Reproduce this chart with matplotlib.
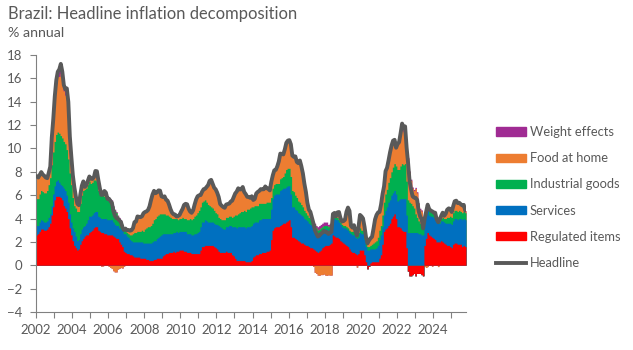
import numpy as np
import matplotlib
matplotlib.use("Agg")
import matplotlib.pyplot as plt
from matplotlib.patches import Patch
from matplotlib.lines import Line2D

plt.rcParams['font.family'] = ['Lato', 'DejaVu Sans']

start_year = 2002
series_names = ["Regulated items", "Services", "Industrial goods", "Food at home", "Weight effects"]

headline = [
    7.62, 7.51, 7.75, 7.98, 7.77, 7.66, 7.51, 7.46, 7.93, 8.45, 10.93, 12.53,
    14.47, 15.85, 16.57, 16.77, 17.24, 16.57, 15.43, 15.07, 15.14, 13.98, 11.02, 9.30,
    7.71, 6.69, 5.89, 5.26, 5.15, 6.06, 6.81, 7.18, 6.71, 6.86, 7.24, 7.60,
    7.41, 7.39, 7.54, 8.07, 8.05, 7.27, 6.57, 6.02, 6.04, 6.36, 6.22, 5.69,
    5.70, 5.51, 5.32, 4.63, 4.23, 4.03, 3.97, 3.84, 3.70, 3.26, 3.02, 3.14,
    2.99, 3.02, 2.96, 3.00, 3.18, 3.69, 3.74, 4.18, 4.15, 4.12, 4.19, 4.46,
    4.56, 4.61, 4.73, 5.04, 5.58, 6.06, 6.37, 6.17, 6.25, 6.41, 6.39, 5.90,
    5.84, 5.90, 5.61, 5.53, 5.20, 4.80, 4.50, 4.36, 4.34, 4.17, 4.22, 4.31,
    4.59, 4.83, 5.17, 5.26, 5.22, 4.84, 4.60, 4.49, 4.70, 5.20, 5.63, 5.91,
    5.99, 6.01, 6.30, 6.51, 6.55, 6.71, 6.87, 7.23, 7.31, 6.97, 6.64, 6.50,
    6.22, 5.85, 5.24, 5.10, 4.99, 4.92, 5.20, 5.24, 5.28, 5.45, 5.53, 5.84,
    6.15, 6.31, 6.59, 6.49, 6.50, 6.70, 6.27, 6.09, 5.86, 5.84, 5.77, 5.91,
    5.59, 5.68, 6.15, 6.28, 6.37, 6.52, 6.50, 6.51, 6.75, 6.59, 6.56, 6.41,
    7.14, 7.70, 8.13, 8.17, 8.47, 8.89, 9.56, 9.53, 9.49, 9.93, 10.48, 10.67,
    10.71, 10.36, 9.39, 9.28, 9.32, 8.84, 8.74, 8.97, 8.48, 7.87, 6.99, 6.29,
    5.35, 4.76, 4.57, 4.08, 3.60, 3.00, 2.71, 2.46, 2.54, 2.70, 2.80, 2.95,
    2.86, 2.84, 2.68, 2.76, 2.86, 4.39, 4.48, 4.19, 4.53, 4.56, 4.05, 3.75,
    3.78, 3.89, 4.58, 4.94, 4.66, 3.37, 3.22, 3.43, 2.89, 2.54, 3.27, 4.31,
    4.19, 4.01, 3.30, 2.40, 1.88, 2.13, 2.31, 2.44, 3.14, 3.92, 4.31, 4.52,
    4.56, 5.20, 6.10, 6.76, 8.06, 8.35, 8.99, 9.68, 10.25, 10.67, 10.74, 10.06,
    10.38, 10.54, 11.30, 12.13, 11.73, 11.89, 10.07, 8.73, 7.17, 6.47, 5.90, 5.79,
    5.77, 5.60, 4.65, 4.18, 3.94, 3.16, 3.99, 4.61, 5.19, 4.82, 4.68, 4.62,
    4.51, 4.50, 3.93, 3.69, 3.93, 4.23, 4.50, 4.24, 4.42, 4.76, 4.87, 4.83,
    4.56, 5.06, 5.48, 5.53, 5.32, 5.35, 5.23, 5.13, 5.17, 4.68,
]

regulated = [
    2.6, 2.7, 2.9, 3.1, 3.1, 3.0, 3.0, 3.1, 3.3, 3.6, 4.3, 5.0,
    5.6, 5.9, 5.9, 5.9, 5.8, 5.6, 5.1, 4.9, 4.6, 4.0, 3.2, 2.6,
    2.1, 1.7, 1.5, 1.3, 1.4, 1.8, 2.1, 2.3, 2.5, 2.6, 2.6, 2.8,
    2.9, 3.0, 3.2, 3.3, 3.3, 3.0, 2.9, 2.8, 2.8, 2.7, 2.7, 2.6,
    2.6, 2.6, 2.6, 2.5, 2.4, 2.3, 2.3, 2.0, 1.8, 1.6, 1.2, 1.1,
    1.0, 1.0, 0.9, 0.9, 0.8, 0.7, 0.7, 0.7, 0.7, 0.6, 0.6, 0.6,
    0.6, 0.5, 0.5, 0.4, 0.4, 0.4, 0.5, 0.5, 0.6, 0.6, 0.6, 0.6,
    0.8, 0.9, 1.0, 1.0, 1.1, 1.1, 1.1, 1.2, 1.1, 1.2, 1.2, 1.3,
    1.3, 1.3, 1.2, 1.2, 1.1, 1.1, 1.1, 1.0, 1.0, 1.0, 1.0, 1.0,
    1.0, 1.3, 1.6, 1.6, 1.7, 1.7, 1.7, 1.7, 1.7, 1.7, 1.6, 1.5,
    1.4, 1.2, 1.1, 1.1, 1.1, 1.1, 1.2, 1.1, 1.1, 1.1, 0.9, 0.8,
    0.6, 0.4, 0.4, 0.4, 0.4, 0.4, 0.4, 0.3, 0.3, 0.3, 0.3, 0.4,
    0.7, 0.8, 0.9, 0.9, 1.0, 1.0, 1.1, 1.1, 1.1, 1.2, 1.2, 1.3,
    2.2, 3.0, 3.2, 3.3, 3.3, 3.3, 3.4, 3.5, 3.6, 3.6, 3.7, 3.8,
    3.9, 3.3, 2.4, 2.4, 2.3, 2.2, 2.1, 2.0, 1.9, 1.9, 1.8, 1.7,
    1.7, 1.6, 1.5, 1.5, 1.4, 1.3, 1.2, 1.1, 1.2, 1.3, 1.5, 1.6,
    1.7, 1.7, 1.7, 1.8, 1.9, 2.6, 2.5, 2.4, 2.4, 2.3, 2.1, 2.0,
    1.9, 1.8, 1.7, 1.6, 1.4, 1.2, 1.1, 1.1, 1.0, 0.9, 1.0, 1.3,
    1.3, 1.3, 0.9, 0.3, -0.3, -0.1, 0.2, 0.3, 0.3, 0.3, 0.3, 0.3,
    0.6, 0.9, 1.8, 2.9, 3.1, 3.2, 3.4, 3.6, 4.0, 4.2, 4.4, 4.0,
    3.3, 3.3, 3.2, 3.0, 2.9, 2.9, 1.5, -0.5, -0.9, -0.9, -0.8, -0.7,
    -0.9, -0.7, -0.7, -0.7, -0.8, -0.9, 1.7, 2.3, 2.8, 2.6, 2.5, 2.4,
    2.3, 2.2, 2.0, 2.0, 2.0, 2.1, 2.0, 1.9, 1.8, 1.7, 1.7, 1.6,
    1.5, 1.8, 1.9, 1.9, 1.8, 1.8, 1.8, 1.6, 1.7, 1.6,
]

services = [
    0.8, 0.7, 0.8, 0.8, 0.7, 0.7, 0.7, 0.7, 0.8, 0.8, 0.8, 1.1,
    1.2, 1.3, 1.4, 1.2, 1.1, 1.2, 1.5, 1.5, 1.4, 1.4, 1.2, 1.1,
    1.1, 1.2, 1.0, 0.8, 0.8, 0.9, 1.0, 1.0, 0.9, 1.0, 1.3, 1.4,
    1.3, 1.3, 1.3, 1.3, 1.3, 1.2, 1.2, 1.2, 1.2, 1.3, 1.3, 1.3,
    1.3, 1.3, 1.3, 1.2, 1.1, 1.1, 1.1, 1.2, 1.3, 1.4, 1.5, 1.6,
    1.5, 1.4, 1.3, 1.2, 1.2, 1.3, 1.3, 1.3, 1.3, 1.4, 1.4, 1.3,
    1.3, 1.4, 1.4, 1.5, 1.5, 1.6, 1.6, 1.6, 1.7, 1.8, 1.9, 2.0,
    1.9, 1.8, 1.7, 1.7, 1.6, 1.6, 1.6, 1.6, 1.7, 1.7, 1.6, 1.6,
    1.6, 1.6, 1.7, 1.7, 1.6, 1.6, 1.6, 1.6, 1.6, 1.7, 1.7, 1.8,
    1.9, 2.0, 2.1, 2.1, 2.2, 2.1, 2.0, 2.0, 2.0, 2.0, 2.0, 2.0,
    2.1, 2.2, 2.2, 2.1, 2.0, 2.0, 2.1, 2.2, 2.3, 2.3, 2.4, 2.5,
    2.7, 2.8, 2.9, 2.9, 2.9, 2.9, 2.9, 2.9, 3.0, 3.0, 3.0, 3.0,
    2.9, 2.9, 2.8, 2.8, 2.9, 2.9, 2.9, 2.9, 2.9, 2.8, 2.8, 2.7,
    2.6, 2.7, 2.8, 2.8, 2.8, 2.8, 3.0, 3.0, 3.0, 3.0, 3.0, 3.0,
    2.9, 2.8, 2.6, 2.6, 2.5, 2.5, 2.4, 2.4, 2.4, 2.3, 2.2, 2.2,
    2.1, 2.0, 2.0, 1.9, 1.8, 1.7, 1.6, 1.5, 1.5, 1.5, 1.4, 1.4,
    1.4, 1.4, 1.3, 1.3, 1.3, 1.4, 1.5, 1.5, 1.5, 1.4, 1.4, 1.3,
    1.3, 1.4, 1.4, 1.4, 1.4, 1.5, 1.5, 1.5, 1.4, 1.4, 1.4, 1.5,
    1.4, 1.4, 1.3, 1.3, 1.3, 1.3, 1.2, 1.1, 1.1, 1.1, 1.2, 1.4,
    1.6, 1.7, 1.5, 1.4, 1.6, 1.8, 2.0, 2.0, 2.0, 2.0, 2.0, 2.1,
    2.2, 2.3, 2.5, 2.7, 2.8, 2.8, 2.8, 2.8, 2.8, 2.8, 2.8, 2.8,
    2.8, 2.8, 2.7, 2.7, 2.6, 2.6, 1.9, 2.0, 1.9, 1.7, 1.7, 1.8,
    1.8, 1.8, 1.7, 1.6, 1.6, 1.7, 1.8, 1.8, 1.8, 1.9, 1.9, 2.0,
    2.0, 2.0, 2.1, 2.1, 2.1, 2.2, 2.2, 2.3, 2.3, 2.3,
]

industrial = [
    2.3, 2.3, 2.4, 2.5, 2.5, 2.5, 2.5, 2.6, 2.8, 3.1, 3.5, 3.6,
    3.8, 4.0, 4.1, 4.2, 4.2, 4.1, 4.0, 4.0, 3.9, 3.7, 3.5, 3.2,
    2.6, 2.2, 2.4, 2.5, 2.4, 2.6, 2.9, 3.1, 3.1, 3.0, 3.0, 3.0,
    2.8, 2.8, 2.8, 2.7, 2.6, 2.2, 2.0, 2.1, 2.1, 1.9, 1.8, 1.7,
    1.8, 1.7, 1.6, 1.3, 1.2, 1.1, 0.8, 0.8, 0.7, 0.5, 0.4, 0.3,
    0.3, 0.3, 0.4, 0.5, 0.7, 0.8, 0.8, 0.9, 0.9, 0.9, 1.0, 1.0,
    1.2, 1.3, 1.4, 1.4, 1.5, 1.6, 1.8, 1.9, 1.9, 1.9, 1.9, 1.8,
    1.7, 1.7, 1.6, 1.6, 1.5, 1.4, 1.3, 1.2, 1.2, 1.1, 1.1, 1.1,
    1.1, 1.2, 1.1, 1.1, 1.2, 1.2, 1.3, 1.3, 1.4, 1.5, 1.6, 1.7,
    1.8, 1.7, 1.7, 1.8, 1.7, 1.6, 1.5, 1.4, 1.3, 1.2, 1.1, 1.0,
    0.9, 0.7, 0.7, 0.7, 0.8, 0.8, 0.8, 0.8, 0.8, 0.8, 0.8, 0.9,
    1.0, 1.1, 1.1, 1.2, 1.3, 1.3, 1.4, 1.4, 1.5, 1.5, 1.6, 1.6,
    1.4, 1.4, 1.4, 1.4, 1.4, 1.4, 1.3, 1.3, 1.3, 1.4, 1.4, 1.4,
    1.0, 0.9, 0.9, 0.9, 0.9, 0.9, 1.0, 1.0, 1.0, 1.3, 1.5, 1.5,
    1.5, 1.5, 1.4, 1.3, 1.2, 1.1, 1.0, 1.0, 0.9, 0.8, 0.7, 0.6,
    0.5, 0.5, 0.5, 0.5, 0.5, 0.5, 0.4, 0.4, 0.4, 0.4, 0.4, 0.4,
    0.3, 0.3, 0.3, 0.3, 0.3, 0.2, 0.2, 0.2, 0.2, 0.2, 0.2, 0.2,
    0.2, 0.2, 0.2, 0.2, 0.2, 0.2, 0.3, 0.3, 0.4, 0.4, 0.4, 0.4,
    0.3, 0.3, 0.3, 0.3, 0.3, 0.3, 0.3, 0.4, 0.5, 0.6, 0.6, 0.7,
    0.8, 0.8, 1.0, 1.1, 1.4, 1.5, 1.7, 1.9, 2.0, 2.2, 2.3, 2.4,
    2.7, 2.6, 2.8, 3.0, 2.9, 3.0, 2.9, 2.8, 2.6, 2.5, 2.3, 2.1,
    1.6, 1.3, 1.1, 0.9, 0.8, 0.7, 0.4, 0.4, 0.5, 0.4, 0.4, 0.4,
    0.3, 0.3, 0.2, 0.2, 0.2, 0.2, 0.3, 0.3, 0.4, 0.5, 0.5, 0.6,
    0.6, 0.7, 0.7, 0.7, 0.7, 0.7, 0.6, 0.6, 0.6, 0.6,
]

food_at_home = [
    1.92, 1.81, 1.65, 1.58, 1.47, 1.46, 1.31, 1.06, 1.03, 0.95, 2.33, 2.83,
    3.67, 4.35, 4.77, 4.87, 5.34, 5.07, 4.33, 4.17, 4.84, 4.58, 3.02, 2.30,
    1.91, 1.59, 0.99, 0.66, 0.55, 0.76, 0.81, 0.78, 0.21, 0.26, 0.34, 0.40,
    0.41, 0.29, 0.24, 0.77, 0.85, 0.87, 0.47, -0.08, -0.06, 0.46, 0.42, 0.09,
    -0.10, -0.19, -0.28, -0.47, -0.57, -0.57, -0.33, -0.26, -0.20, -0.24, -0.08, 0.14,
    0.19, 0.32, 0.36, 0.40, 0.48, 0.89, 0.94, 1.28, 1.25, 1.22, 1.19, 1.56,
    1.46, 1.41, 1.43, 1.74, 2.18, 2.46, 2.47, 2.17, 2.05, 2.11, 1.99, 1.50,
    1.44, 1.50, 1.31, 1.23, 1.00, 0.70, 0.50, 0.36, 0.34, 0.17, 0.32, 0.31,
    0.59, 0.73, 1.17, 1.26, 1.32, 0.94, 0.60, 0.59, 0.70, 1.00, 1.33, 1.41,
    1.29, 1.01, 0.90, 1.01, 0.95, 1.31, 1.67, 2.13, 2.31, 2.07, 1.94, 2.00,
    1.82, 1.75, 1.24, 1.20, 1.09, 1.02, 1.10, 1.14, 1.08, 1.25, 1.43, 1.64,
    1.85, 2.01, 2.19, 1.99, 1.90, 2.10, 1.57, 1.49, 1.06, 1.04, 0.87, 0.91,
    0.59, 0.58, 1.05, 1.18, 1.07, 1.22, 1.20, 1.21, 1.45, 1.19, 1.16, 1.01,
    1.34, 1.10, 1.23, 1.17, 1.47, 1.89, 2.16, 2.03, 1.89, 2.03, 2.28, 2.37,
    2.21, 2.66, 2.99, 2.98, 3.32, 3.04, 3.24, 3.57, 3.28, 2.87, 2.29, 1.79,
    1.05, 0.66, 0.57, 0.18, -0.10, -0.60, -0.69, -0.84, -0.86, -0.80, -0.80, -0.75,
    -0.84, -0.86, -0.82, -0.84, -0.84, 0.19, 0.28, 0.09, 0.43, 0.66, 0.35, 0.25,
    0.38, 0.49, 1.28, 1.74, 1.66, 0.47, 0.32, 0.53, 0.09, -0.16, 0.47, 1.11,
    1.19, 1.01, 0.80, 0.50, 0.58, 0.63, 0.61, 0.64, 1.24, 1.92, 2.21, 2.12,
    1.56, 1.80, 1.80, 1.36, 1.96, 1.85, 1.89, 2.18, 2.25, 2.27, 2.04, 1.56,
    2.18, 2.34, 2.70, 3.03, 2.83, 2.99, 2.77, 3.53, 2.57, 1.97, 1.50, 1.49,
    2.17, 2.10, 1.45, 1.18, 1.24, 0.66, -0.11, -0.19, -0.11, 0.02, -0.02, -0.08,
    0.11, 0.20, 0.03, -0.11, 0.13, 0.23, 0.40, 0.24, 0.42, 0.66, 0.77, 0.63,
    0.46, 0.56, 0.78, 0.83, 0.72, 0.65, 0.63, 0.63, 0.57, 0.18,
]

weight_effects = [
    0, 0, 0, 0, 0, 0, 0, 0, 0, 0, 0, 0,
    0.2, 0.3, 0.4, 0.6, 0.8, 0.6, 0.5, 0.5, 0.4, 0.3, 0.1, 0.1,
    0, 0, 0, 0, 0, 0, 0, 0, 0, 0, 0, 0,
    0, 0, 0, 0, 0, 0, 0, 0, 0, 0, 0, 0,
    0.1, 0.1, 0.1, 0.1, 0.1, 0.1, 0.1, 0.1, 0.1, 0, 0, 0,
    0, 0, 0, 0, 0, 0, 0, 0, 0, 0, 0, 0,
    0, 0, 0, 0, 0, 0, 0, 0, 0, 0, 0, 0,
    0, 0, 0, 0, 0, 0, 0, 0, 0, 0, 0, 0,
    0, 0, 0, 0, 0, 0, 0, 0, 0, 0, 0, 0,
    0, 0, 0, 0, 0, 0, 0, 0, 0, 0, 0, 0,
    0, 0, 0, 0, 0, 0, 0, 0, 0, 0, 0, 0,
    0, 0, 0, 0, 0, 0, 0, 0, 0, 0, 0, 0,
    0, 0, 0, 0, 0, 0, 0, 0, 0, 0, 0, 0,
    0, 0, 0, 0, 0, 0, 0, 0, 0, 0, 0, 0,
    0.2, 0.1, 0, 0, 0, 0, 0, 0, 0, 0, 0, 0,
    0, 0, 0, 0, 0, 0.1, 0.2, 0.3, 0.3, 0.3, 0.3, 0.3,
    0.3, 0.3, 0.2, 0.2, 0.2, 0, 0, 0, 0, 0, 0, 0,
    0, 0, 0, 0, 0, 0, 0, 0, 0, 0, 0, 0,
    0, 0, 0, 0, 0, 0, 0, 0, 0, 0, 0, 0,
    0, 0, 0, 0, 0, 0, 0, 0, 0, 0, 0, 0,
    0, 0, 0.1, 0.4, 0.3, 0.2, 0.1, 0.1, 0.1, 0.1, 0.1, 0.1,
    0.1, 0.1, 0.1, 0.1, 0.1, 0.1, 0.1, 0.1, 0.1, 0.1, 0.1, 0.1,
    0, 0, 0, 0, 0, 0, 0, 0, 0, 0, 0, 0,
    0, 0, 0, 0, 0, 0, 0, 0, 0, 0,
]

colors = ["#FF0000", "#0070C0", "#00B050", "#ED7D31", "#A02B93"]
line_color = "#595959"
text_color = "#595959"
axis_color = "#808080"

series = [regulated, services, industrial, food_at_home, weight_effects]
n = len(headline)
for s in series:
    assert len(s) == n

vals = np.array(series, dtype=float)
pos = np.clip(vals, 0, None).cumsum(axis=0)
neg = np.clip(vals, None, 0).cumsum(axis=0)

x_edges = start_year + np.arange(n + 1) / 12.0
x_mid = start_year + (np.arange(n) + 0.5) / 12.0

fig = plt.figure(figsize=(6.33, 3.5), dpi=100)
ax = fig.add_axes([36 / 633, 38 / 350, 430 / 633, 257 / 350])

def ext(a):
    return np.append(a, a[-1])

# draw from top layer to bottom layer, each from zero, to avoid seams
for k in range(len(series) - 1, -1, -1):
    ax.fill_between(x_edges, 0, ext(pos[k]), step='post', color=colors[k], lw=0, zorder=2)
    ax.fill_between(x_edges, 0, ext(neg[k]), step='post', color=colors[k], lw=0, zorder=2)

ax.plot(x_mid, headline, color=line_color, lw=2.8, solid_joinstyle='round',
        solid_capstyle='round', zorder=5)

ax.set_xlim(start_year, start_year + n / 12.0)
ax.set_ylim(-4, 18)
ax.set_yticks(np.arange(-4, 19, 2))
ax.set_xticks(np.arange(2002, 2025, 2))
ax.set_xticks(np.arange(2002, 2026, 1), minor=True)
ax.set_xticklabels([str(y) for y in range(2002, 2025, 2)])

for side in ["top", "right"]:
    ax.spines[side].set_visible(False)
for side in ["left", "bottom"]:
    ax.spines[side].set_color(axis_color)
    ax.spines[side].set_linewidth(0.8)
ax.tick_params(axis='both', which='both', color=axis_color, direction='out', length=4,
               width=0.8, labelcolor=text_color, labelsize=9.5)
ax.tick_params(axis='y', pad=6)
ax.tick_params(axis='x', pad=5)

fig.text(8 / 633, 1 - 14 / 350, "Brazil: Headline inflation decomposition",
         fontsize=11.9, color=text_color, va='center', ha='left')
fig.text(8 / 633, 1 - 33 / 350, "% annual", fontsize=10.3, color=text_color,
         va='center', ha='left')

handles = [Patch(color=colors[4]), Patch(color=colors[3]), Patch(color=colors[2]),
           Patch(color=colors[1]), Patch(color=colors[0]),
           Line2D([0], [0], color=line_color, lw=2.8)]
labels = ["Weight effects", "Food at home", "Industrial goods", "Services",
          "Regulated items", "Headline"]
leg = fig.legend(handles, labels, loc='upper left', bbox_to_anchor=(496 / 633, 1 - 126 / 350),
                 frameon=False, fontsize=9.3, labelcolor=text_color, handlelength=2.35,
                 handleheight=0.6, handletextpad=0.25, labelspacing=1.1,
                 borderpad=0, borderaxespad=0)

fig.savefig("out.png", dpi=100)
